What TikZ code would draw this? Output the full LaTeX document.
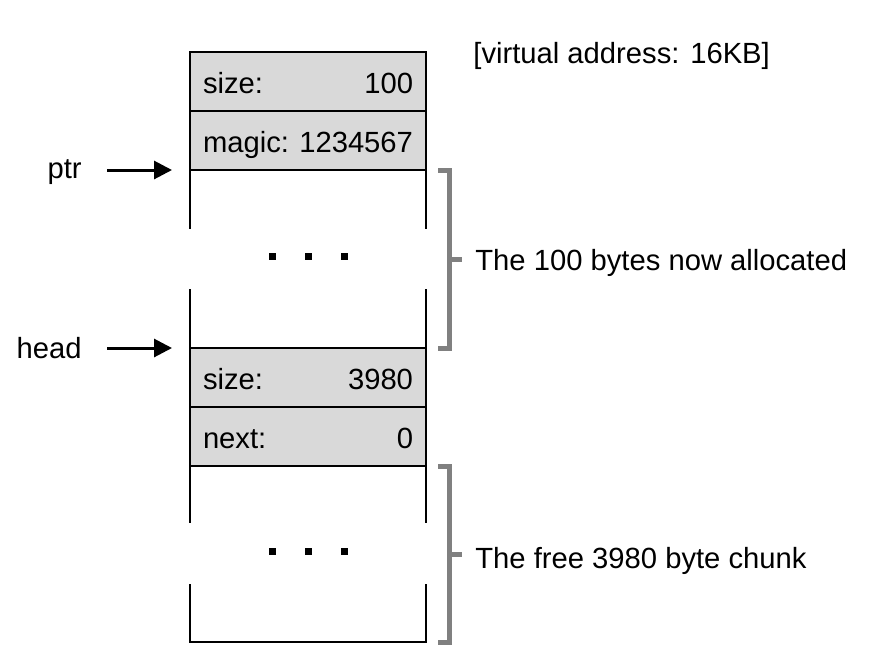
\documentclass[tikz,border=0pt]{standalone}
\usepackage{fontspec}
\setmainfont{Liberation Sans}
\usetikzlibrary{arrows.meta, positioning}

\begin{document}
\begin{tikzpicture}[
      x=0.5pt, y=-0.5pt,
      font=\fontsize{14.6}{17}\selectfont,
      cell/.style={draw, line width=1pt, fill=black!15, minimum width=118pt, minimum height=29.5pt, outer sep=0pt,
        text width=105pt, inner xsep=6.5pt, inner ysep=0pt, text height=12pt, text depth=0pt},
      hole/.style={minimum width=118pt, inner sep=0pt, outer sep=0pt},
      wall/.style={line width=1pt},
      brace/.style={draw=black!50, line width=2.5pt},
      lbl/.style={inner sep=0pt},
      >={Triangle[length=9pt, width=9pt]}
    ]
    \useasboundingbox (0,0) rectangle (884,660);

    \node[cell, anchor=north west] (size1) at (190,52) {size:\hfill 100};
    \node[cell, below=0pt of size1] (magic) {magic:\hfill 1234567};
    \node[hole, below=0pt of magic, minimum height=89pt] (alloc) {};
    \node[cell, below=0pt of alloc] (size2) {size:\hfill 3980};
    \node[cell, below=0pt of size2] (nextp) {next:\hfill 0};
    \node[hole, below=0pt of nextp, minimum height=88pt] (free) {};

    \draw[wall] (alloc.north west) -- ++(0,59) (alloc.south west) -- ++(0,-59);
    \draw[wall] (alloc.north east) -- ++(0,59) (alloc.south east) -- ++(0,-59);
    \draw[wall] (free.north west) -- ++(0,57) (free.north east) -- ++(0,57);
    \draw[wall] (free.south west) ++(0,-58) -- (free.south west) -- (free.south east) -- ++(0,-58);
    \foreach \x in {272,308,344} {
      \fill (\x-3.5,252.5) rectangle ++(7,7);
      \fill (\x-3.5,547.5) rectangle ++(7,7);
    }

    \node[lbl, anchor=east] (ptr) at (82,172) {ptr};
    \node[lbl, anchor=east] (head) at (82,348) {head};
    \draw[->, line width=1.5pt, shorten <=12.5pt, shorten >=9pt] (ptr.east |- alloc.north west) -- (alloc.north west);
    \draw[->, line width=1.5pt, shorten <=12.5pt, shorten >=9pt] (head.east |- size2.north west) -- (size2.north west);

    \node[lbl, anchor=base west] (vaddr) at (473,63) {[virtual address: 16KB]};
    \node[lbl, anchor=base west] (alloctext) at (475,270) {The 100 bytes now allocated};
    \node[lbl, anchor=base west] (freetext) at (475,568) {The free 3980 byte chunk};

    \draw[brace] ([xshift=6pt]alloc.north east) -| ([xshift=11.5pt]alloc.south east) -- ([xshift=6pt]alloc.south east);
    \draw[brace] ([xshift=11.5pt]alloc.east) -- ([xshift=18pt]alloc.east);
    \draw[brace] ([xshift=6pt]free.north east) -| ([xshift=11.5pt]free.south east) -- ([xshift=6pt]free.south east);
    \draw[brace] ([xshift=11.5pt]free.east) -- ([xshift=18pt]free.east);
  \end{tikzpicture}
\end{document}
